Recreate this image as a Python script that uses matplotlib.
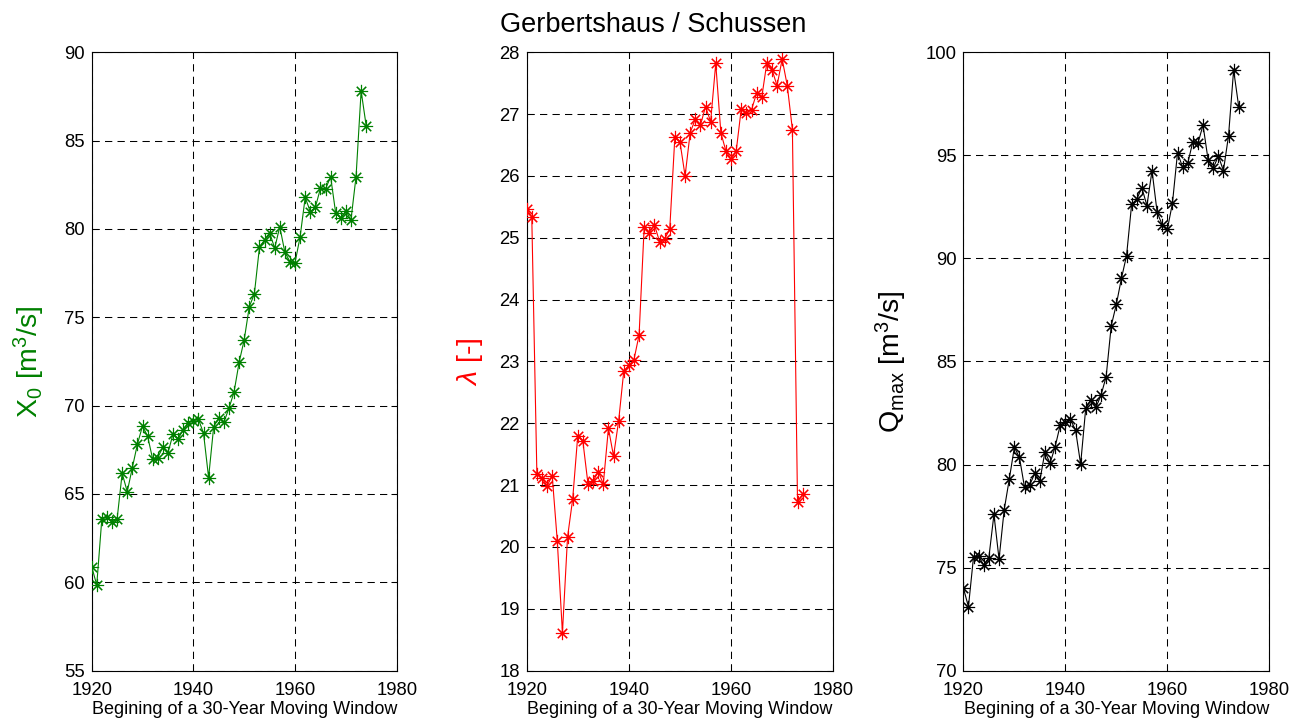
import matplotlib
matplotlib.use("Agg")
import matplotlib.pyplot as plt

plt.rcParams['font.family'] = ['Liberation Sans', 'DejaVu Sans']
plt.rcParams['mathtext.fontset'] = 'custom'
plt.rcParams['mathtext.rm'] = 'Liberation Sans'
plt.rcParams['mathtext.it'] = 'Liberation Sans:italic'

# start year of each 30-year window
YEARS = list(range(1920, 1975))

X0 = [60.89, 59.85, 63.59, 63.72, 63.44, 63.57, 66.17, 65.13, 66.49, 67.82,
      68.85, 68.28, 66.97, 67.06, 67.65, 67.31, 68.40, 68.12, 68.63, 69.04,
      69.15, 69.23, 68.44, 65.93, 68.81, 69.29, 69.06, 69.85, 70.76, 72.45,
      73.72, 75.60, 76.32, 78.96, 79.38, 79.79, 78.91, 80.13, 78.68, 78.15,
      78.09, 79.56, 81.79, 80.98, 81.23, 82.30, 82.26, 82.96, 80.89, 80.61,
      81.02, 80.51, 82.96, 87.81, 85.83]

LAMBDA = [25.46, 25.34, 21.18, 21.11, 20.99, 21.15, 20.09, 18.61, 20.16, 20.77,
          21.80, 21.71, 21.02, 21.06, 21.22, 21.02, 21.92, 21.47, 22.04, 22.84,
          22.94, 23.03, 23.43, 25.18, 25.08, 25.21, 24.94, 24.98, 25.14, 26.63,
          26.55, 26.00, 26.70, 26.92, 26.82, 27.12, 26.88, 27.82, 26.70, 26.40,
          26.27, 26.40, 27.09, 27.02, 27.07, 27.34, 27.27, 27.83, 27.72, 27.46,
          27.89, 27.46, 26.75, 20.73, 20.85]

QMAX = [74.02, 73.10, 75.53, 75.56, 75.12, 75.48, 77.58, 75.41, 77.79, 79.28,
        80.83, 80.35, 78.89, 79.00, 79.57, 79.21, 80.62, 80.06, 80.86, 81.92,
        82.05, 82.19, 81.67, 80.02, 82.73, 83.13, 82.77, 83.37, 84.26, 86.73,
        87.77, 89.03, 90.13, 92.62, 92.87, 93.43, 92.56, 94.26, 92.24, 91.62,
        91.41, 92.67, 95.13, 94.42, 94.61, 95.66, 95.58, 96.47, 94.77, 94.37,
        94.97, 94.26, 95.95, 99.14, 97.36]

XTICKS = [1920, 1940, 1960, 1980]
XLABEL = "Begining of a 30-Year Moving Window"


def panel(fig, rect, values, color, ylabel, ylim, yticks, labelpad):
    ax = fig.add_axes(rect)
    ax.plot(YEARS, values, color=color, linewidth=0.8,
            marker=(8, 2, 0), markersize=9.5, markeredgewidth=0.8,
            markeredgecolor=color, zorder=3)
    ax.set_xlim(1920, 1980)
    ax.set_ylim(*ylim)
    ax.set_xticks(XTICKS)
    ax.set_yticks(yticks)
    ax.grid(True, color='black', linestyle=(0, (7, 5)), linewidth=0.75)
    ax.set_axisbelow(True)
    ax.tick_params(direction='in', top=True, right=True, length=4,
                   width=0.75, labelsize=13.3)
    ax.tick_params(axis='y', pad=5)
    ax.tick_params(axis='x', pad=8.5)
    for s in ax.spines.values():
        s.set_linewidth(0.8)
    ax.set_xlabel(XLABEL, fontsize=13, labelpad=1)
    ax.set_ylabel(ylabel, fontsize=20.5, color=color, labelpad=labelpad)
    return ax


fig = plt.figure(figsize=(13.02, 7.21), dpi=100)

bottom, height = 0.0698, 0.8577
panel(fig, [0.0704, bottom, 0.2343, height], X0, '#008000',
      r"X$_0$ [m$^3$/s]", (55, 90), range(55, 91, 5), 12)
panel(fig, [0.4045, bottom, 0.2355, height], LAMBDA, '#ff0000',
      r"$\lambda$ [-]", (18, 28), range(18, 29), 10)
panel(fig, [0.7399, bottom, 0.2350, height], QMAX, 'black',
      r"Q$_{\mathrm{max}}$ [m$^3$/s]", (70, 100), range(70, 101, 5), 12)

fig.suptitle("Gerbertshaus / Schussen", x=0.502, y=0.9563, va='baseline',
             fontsize=19.5)

fig.savefig("out.png", dpi=100)
